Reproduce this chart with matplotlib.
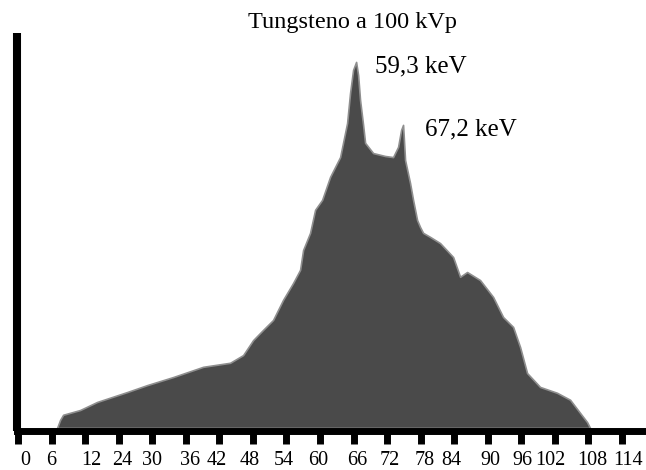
import matplotlib.pyplot as plt

# spectrum (energy axis units, relative intensity)
energy = [6.97, 7.51, 8.05, 11.09, 14.13, 19.49, 23.07, 27.72, 33.09, 37.91,
          40.24, 42.03, 43.82, 45.60, 47.39, 49.18, 50.43, 50.97, 52.22, 53.12,
          54.37, 55.80, 57.59, 58.84, 59.37, 59.91, 60.45, 60.81, 61.16, 61.70,
          62.06, 63.49, 65.63, 67.06, 67.96, 68.50, 68.85, 69.21, 70.10, 70.64,
          71.36, 71.89, 72.43, 73.68, 75.47, 77.80, 79.05, 80.30, 82.62, 84.95,
          86.74, 88.53, 89.78, 91.03, 93.35, 96.39, 98.72, 100.51, 101.76, 102.29]
intensity = [0, 2.2, 3.6, 4.9, 7.1, 9.8, 11.7, 13.9, 16.7, 17.8,
             19.9, 24.0, 26.8, 29.5, 35.0, 39.6, 43.2, 48.6, 53.3, 59.6,
             62.3, 68.6, 74.0, 83.3, 91.5, 97.8, 100, 96.4, 89.6, 82.8,
             77.9, 75.1, 74.3, 74.0, 76.8, 81.4, 82.8, 73.2, 66.9, 62.3,
             56.8, 54.9, 53.3, 52.2, 50.5, 46.7, 41.3, 42.6, 40.4, 35.8,
             30.3, 27.6, 22.1, 15.0, 11.2, 9.6, 7.7, 4.1, 1.6, 0]

# tick marks and their (irregularly placed) labels
tick_pos = [6 * i for i in range(19)]
tick_labels = ['0', '6', '12', '24', '30', '36', '42', '48', '54', '60',
               '66', '72', '78', '84', '90', '96', '102', '108', '114']
label_pos = [1.25, 5.90, 13.06, 18.60, 23.96, 30.76, 35.59, 41.49, 47.57, 53.65,
             60.63, 66.53, 72.79, 77.44, 84.41, 90.14, 95.15, 102.66, 109.10]

plt.rcParams['font.family'] = ['Liberation Serif', 'DejaVu Serif']

W, H = 646, 470
fig = plt.figure(figsize=(W / 100, H / 100), dpi=100)
ax = fig.add_axes([17 / W, 39.5 / H, (W - 17) / W, 397.5 / H])

ax.fill_between(energy, intensity, 0, facecolor='#4a4a4a',
                edgecolor='#8f8f8f', linewidth=1.2)

ax.set_xlim(-0.2, 112.3)
ax.set_ylim(-0.7, 107.9)

# thick black axes, no top/right
for side in ['top', 'right']:
    ax.spines[side].set_visible(False)
ax.spines['left'].set_linewidth(5.8)
ax.spines['left'].set_capstyle('butt')
ax.spines['bottom'].set_linewidth(5.0)
ax.spines['left'].set_color('black')
ax.spines['bottom'].set_color('black')

ax.set_yticks([])
ax.set_xticks(tick_pos)
ax.set_xticklabels([])
ax.tick_params(axis='x', direction='out', length=9.7, width=5.0, color='black')

for x, lab in zip(label_pos, tick_labels):
    ax.text(x, -0.0868, lab, transform=ax.get_xaxis_transform(),
            ha='center', va='baseline', fontsize=14.5)

# title and peak labels
fig.text(352 / W, 1 - 28 / H, 'Tungsteno a 100 kVp', ha='center', va='baseline', fontsize=17.5)
fig.text(375 / W, 1 - 72 / H, '59,3 keV', ha='left', va='baseline', fontsize=18)
fig.text(425 / W, 1 - 135 / H, '67,2 keV', ha='left', va='baseline', fontsize=18)

plt.savefig('out.png', dpi=100)
